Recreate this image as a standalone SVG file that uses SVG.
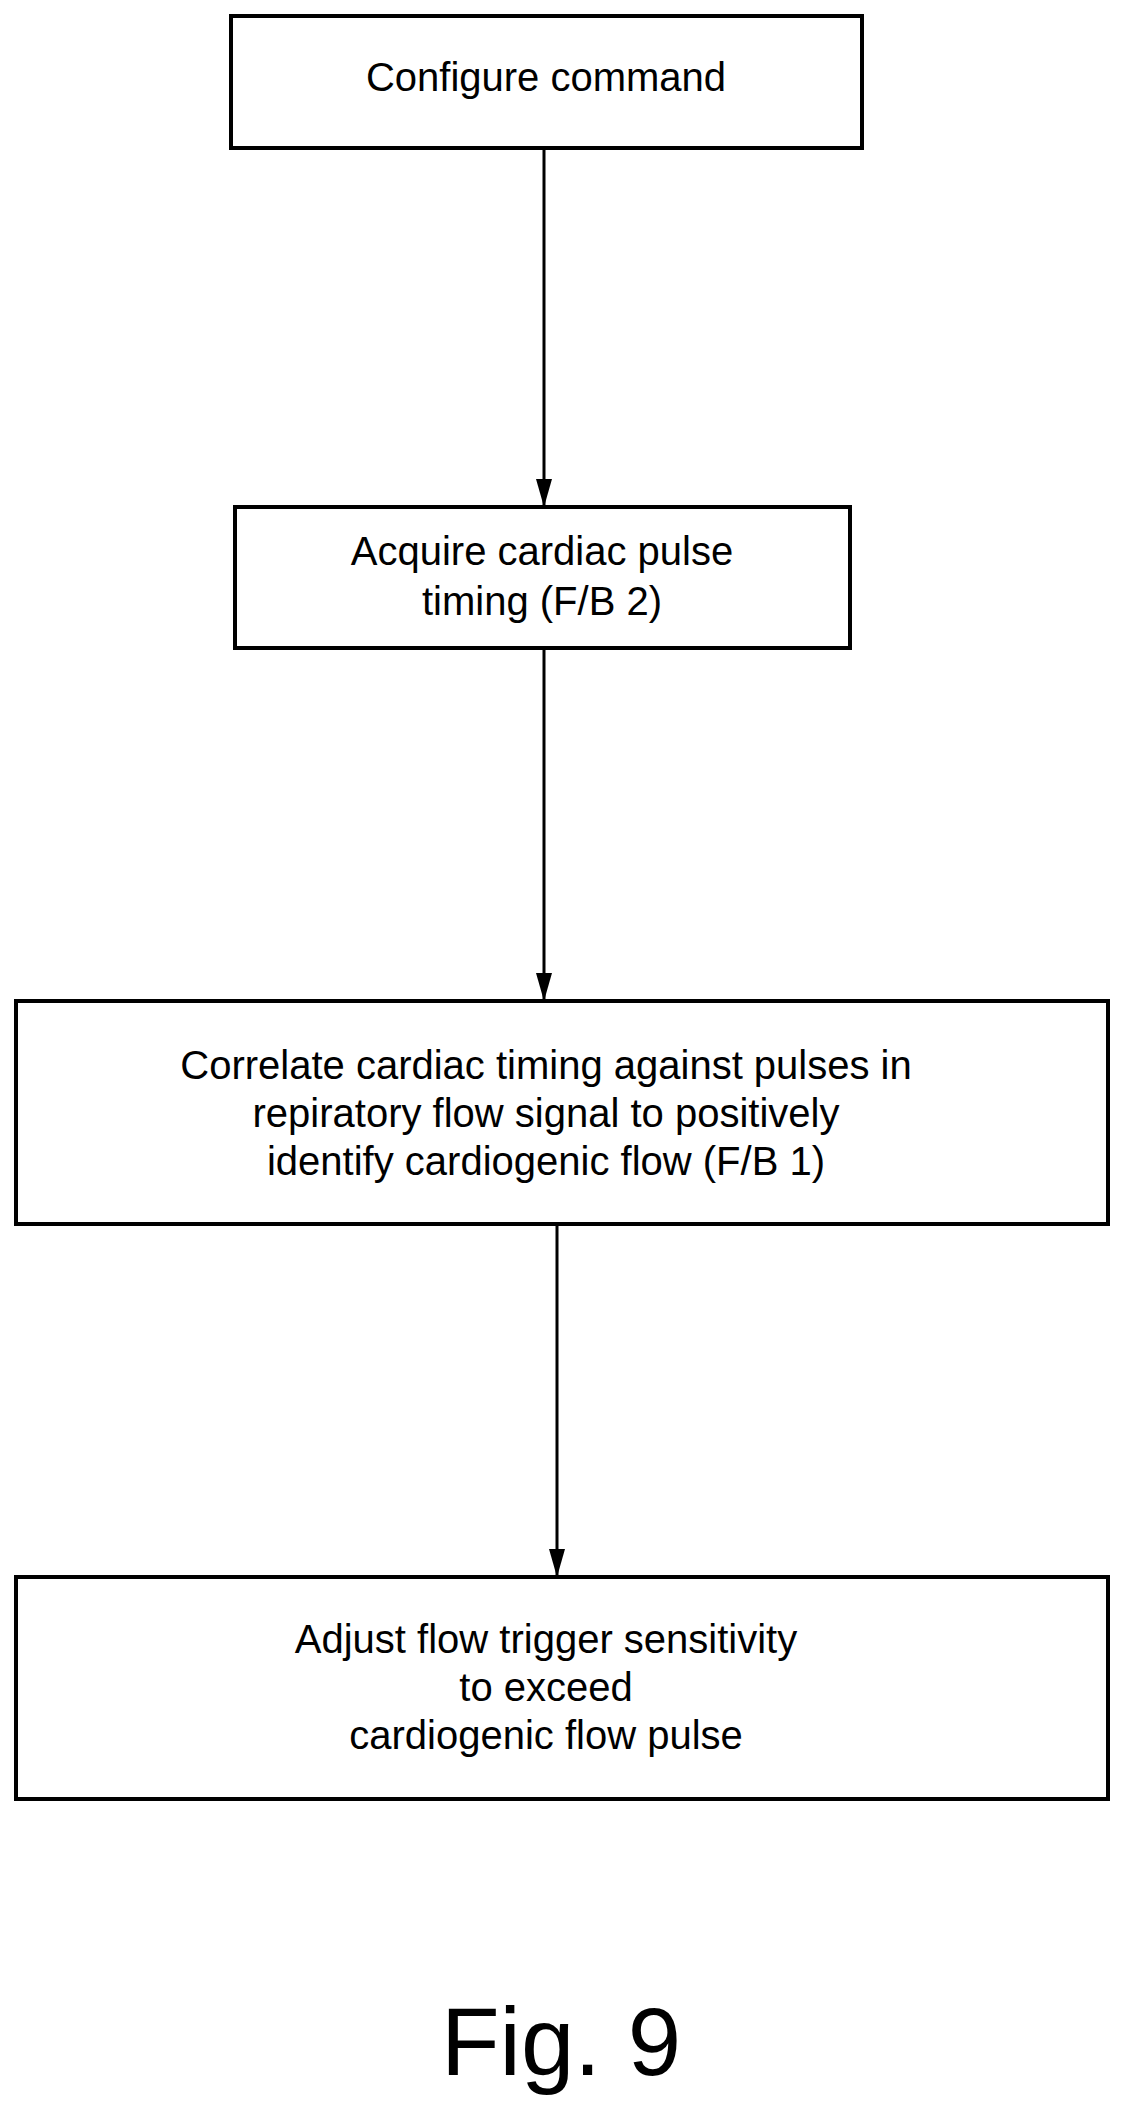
<svg xmlns="http://www.w3.org/2000/svg" width="1125" height="2111" viewBox="0 0 1125 2111">
<style>
.b{fill:#fff;stroke:#000;stroke-width:4}
.t{font-family:"Liberation Sans",Arial,sans-serif;font-size:40px;text-anchor:middle;fill:#000}
.c{stroke:#000;stroke-width:3;fill:none}
</style>
<defs>
<marker id="ah" viewBox="0 0 28 16" markerWidth="28" markerHeight="16" refX="28" refY="8" orient="auto" markerUnits="userSpaceOnUse"><path d="M0,0 L28,8 L0,16 Z" fill="#000"/></marker></defs>
<rect width="1125" height="2111" fill="#fff"/>
<g id="connectors">
<line class="c" x1="544" y1="148" x2="544" y2="507" marker-end="url(#ah)"/>
<line class="c" x1="544" y1="648" x2="544" y2="1001" marker-end="url(#ah)"/>
<line class="c" x1="557" y1="1224" x2="557" y2="1577" marker-end="url(#ah)"/>
</g>
<g id="n1"><rect class="b" x="231" y="16" width="631" height="132"/><text class="t" x="546" y="91">Configure command</text></g>
<g id="n2"><rect class="b" x="235" y="507" width="615" height="141"/><text class="t" x="542" y="565">Acquire cardiac pulse</text><text class="t" x="542" y="615">timing (F/B 2)</text></g>
<g id="n3"><rect class="b" x="16" y="1001" width="1092" height="223"/><text class="t" x="546" y="1079">Correlate cardiac timing against pulses in</text><text class="t" x="546" y="1127">repiratory flow signal to positively</text><text class="t" x="546" y="1175">identify cardiogenic flow (F/B 1)</text></g>
<g id="n4"><rect class="b" x="16" y="1577" width="1092" height="222"/><text class="t" x="546" y="1653">Adjust flow trigger sensitivity</text><text class="t" x="546" y="1701">to exceed</text><text class="t" x="546" y="1749">cardiogenic flow pulse</text></g>
<text class="t" x="561" y="2075" style="font-size:96px">Fig. 9</text>
</svg>
